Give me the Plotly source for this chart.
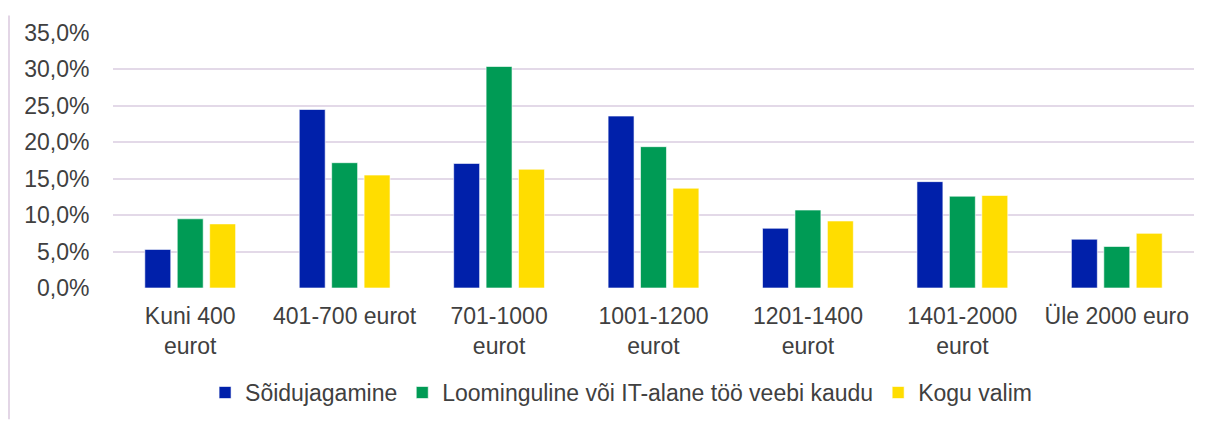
import plotly.graph_objects as go

categories = ["Kuni 400<br>eurot", "401-700 eurot", "701-1000<br>eurot", "1001-1200<br>eurot",
              "1201-1400<br>eurot", "1401-2000<br>eurot", "Üle 2000 euro"]
soidujagamine = [5.3, 24.5, 17.1, 23.6, 8.2, 14.6, 6.7]
loominguline = [9.5, 17.2, 30.4, 19.4, 10.7, 12.6, 5.7]
kogu_valim = [8.8, 15.5, 16.3, 13.7, 9.2, 12.7, 7.5]

series = [
    ("Sõidujagamine", soidujagamine, "#0020AA"),
    ("Loominguline või IT-alane töö veebi kaudu", loominguline, "#009B55"),
    ("Kogu valim", kogu_valim, "#FFDD00"),
]

# page body has an 8px margin, so the figure is a bit smaller than the window
W, H = 1205, 418
L, R, T, B = 105, 19, 18, 136

fig = go.Figure()
for name, vals, col in series:
    fig.add_trace(go.Bar(
        x=categories, y=vals, name=name,
        marker=dict(color=col, line=dict(color="rgba(255,255,255,0.6)", width=1)),
    ))

# thin frame line at the left edge of the chart area
pw = W - L - R
ph = H - T - B
fig.add_shape(type="line", xref="paper", yref="paper",
              x0=(1 - L) / pw, x1=(1 - L) / pw, y0=-B / ph, y1=(ph + T) / ph,
              line=dict(color="#E3D6E6", width=2))

fig.update_layout(
    width=W, height=H,
    margin=dict(l=L, r=R, t=T, b=B),
    paper_bgcolor="white", plot_bgcolor="white",
    barmode="group", bargap=0.37, bargroupgap=0.2,
    separators=", ",
    font=dict(family="Liberation Sans, Arial, sans-serif", size=23, color="#404040"),
    xaxis=dict(showgrid=False, zeroline=False, showline=False,
               ticks="outside", ticklen=7, tickcolor="rgba(0,0,0,0)",
               tickfont=dict(size=23, color="#404040")),
    yaxis=dict(range=[0, 35], dtick=5, tickformat=".1f", ticksuffix="%",
               showgrid=True, gridcolor="#E3D9E8", gridwidth=2,
               zeroline=False, showline=False,
               ticks="outside", ticklen=18, tickcolor="rgba(0,0,0,0)",
               tickfont=dict(size=23, color="#404040")),
    legend=dict(orientation="h", x=0.47, xanchor="center", y=-0.41, yanchor="middle",
                font=dict(size=23, color="#404040"), traceorder="normal"),
    showlegend=True,
)

fig.write_html("out.html")
